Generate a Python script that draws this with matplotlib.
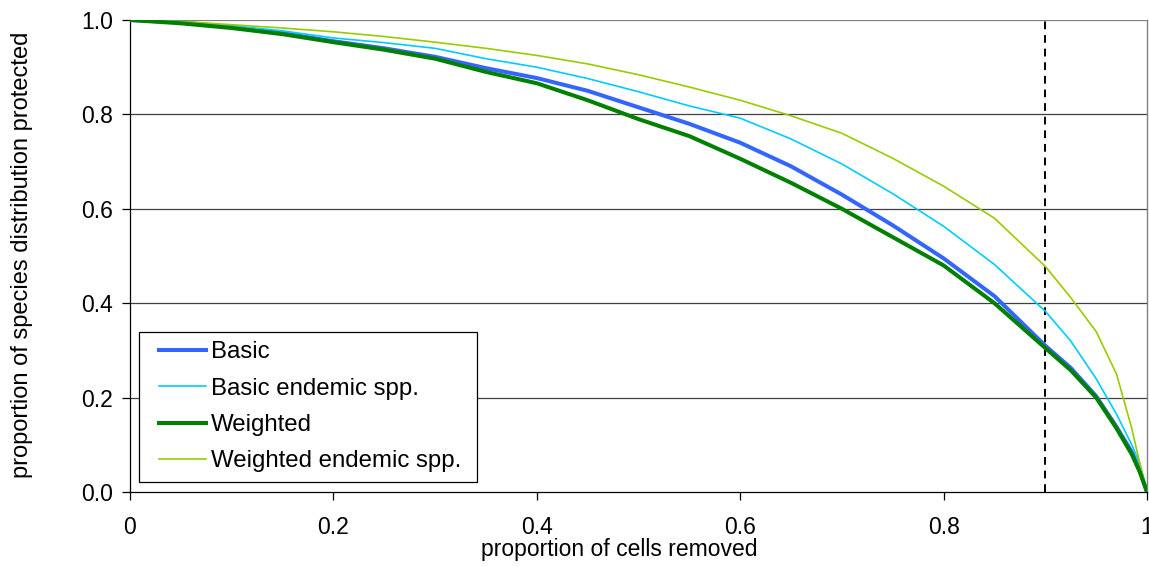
import matplotlib
matplotlib.use('Agg')
import matplotlib.pyplot as plt
from matplotlib.patches import Rectangle

plt.rcParams['font.family'] = ['Liberation Sans', 'DejaVu Sans']

# proportion of cells removed (sample positions along the curves)
cells_removed = [0, 0.05, 0.1, 0.15, 0.2, 0.25, 0.3, 0.35, 0.4, 0.45, 0.5, 0.55,
                 0.6, 0.65, 0.7, 0.75, 0.8, 0.85, 0.9, 0.925, 0.95, 0.97, 0.985,
                 0.993, 1.0]

# proportion of species distribution protected
basic = [1.0, 0.995, 0.985, 0.972, 0.955, 0.94, 0.922, 0.898, 0.877, 0.85, 0.815, 0.78,
         0.74, 0.69, 0.63, 0.565, 0.495, 0.415, 0.31, 0.263, 0.203, 0.138, 0.085,
         0.045, 0.0]
basic_endemic = [1.0, 0.996, 0.988, 0.977, 0.962, 0.952, 0.94, 0.918, 0.9, 0.876, 0.848, 0.818,
                 0.792, 0.748, 0.695, 0.632, 0.563, 0.482, 0.383, 0.32, 0.24, 0.165, 0.1,
                 0.06, 0.0]
weighted = [1.0, 0.993, 0.983, 0.97, 0.953, 0.937, 0.918, 0.89, 0.866, 0.83, 0.79, 0.754,
            0.706, 0.655, 0.6, 0.54, 0.48, 0.4, 0.305, 0.258, 0.2, 0.135, 0.08,
            0.042, 0.0]
weighted_endemic = [1.0, 0.997, 0.99, 0.983, 0.975, 0.965, 0.953, 0.94, 0.925, 0.907, 0.884, 0.858,
                    0.83, 0.797, 0.76, 0.707, 0.648, 0.58, 0.478, 0.412, 0.34, 0.25, 0.135,
                    0.06, 0.0]

cutoff = 0.9

xticks = [0, 0.2, 0.4, 0.6, 0.8, 1]
xtick_labels = ['0', '0.2', '0.4', '0.6', '0.8', '1']
yticks = [0, 0.2, 0.4, 0.6, 0.8, 1.0]
ytick_labels = ['0.0', '0.2', '0.4', '0.6', '0.8', '1.0']

fig = plt.figure(figsize=(11.49, 5.67), dpi=100)
ax = fig.add_axes([130 / 1149, 1 - 492 / 567, 1017 / 1149, 472 / 567])

# horizontal gridlines (top one a bit lighter, like the plot frame)
for y in yticks[1:]:
    ax.axhline(y, color='#808080' if y == 1.0 else '#404040', lw=0.9, zorder=1)

ax.plot(cells_removed, basic, color='#3366FF', lw=2.9, label='Basic', zorder=3)
ax.plot(cells_removed, basic_endemic, color='#00CCFF', lw=1.2, label='Basic endemic spp.', zorder=3)
ax.plot(cells_removed, weighted, color='#008000', lw=2.9, label='Weighted', zorder=4)
ax.plot(cells_removed, weighted_endemic, color='#99CC00', lw=1.2, label='Weighted endemic spp.', zorder=3)

ax.axvline(cutoff, color='black', lw=1.4, ls=(0, (4, 3)), zorder=2)

ax.set_xlim(0, 1)
ax.set_ylim(0, 1)
ax.set_xticks(xticks)
ax.set_xticklabels(xtick_labels)
ax.set_yticks(yticks)
ax.set_yticklabels(ytick_labels)
ax.tick_params(axis='both', direction='out', length=6, width=0.9, labelsize=16.5)
ax.tick_params(axis='x', pad=11)
ax.tick_params(axis='y', pad=6)

for side in ['top', 'right']:
    ax.spines[side].set_visible(False)
ax.spines['left'].set_color('black')
ax.spines['bottom'].set_color('black')
ax.spines['left'].set_linewidth(0.9)
ax.spines['bottom'].set_linewidth(0.9)
ax.axvline(1, color='#808080', lw=1.0, zorder=1, clip_on=False)

ax.set_xlabel('proportion of cells removed', fontsize=16.5)
ax.xaxis.set_label_coords(0.481, -0.097)
ax.set_ylabel('proportion of species distribution protected', fontsize=17, va='center')
ax.yaxis.set_label_coords(-0.106, 0.502)

# legend box drawn separately so the entries can sit inset from the frame
ax.add_patch(Rectangle((0.0089, 0.0212), 0.3323, 0.3178, transform=ax.transAxes,
                       facecolor='white', edgecolor='black', lw=0.9, zorder=5))
leg = ax.legend(loc='upper left', bbox_to_anchor=(0.0285, 0.3195), borderaxespad=0,
                fontsize=17.3, frameon=False,
                handlelength=1.95, handletextpad=0.2, labelspacing=0.6,
                borderpad=0)
leg.set_zorder(6)

fig.savefig('out.png', dpi=100)
